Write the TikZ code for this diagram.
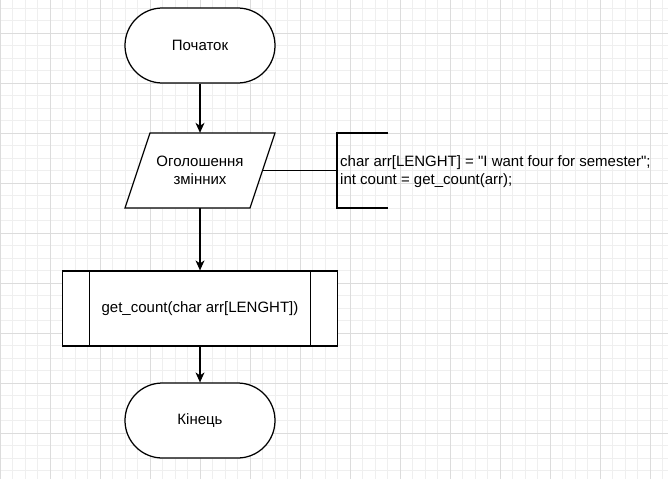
\documentclass[tikz,border=0pt]{standalone}
\usepackage{fontspec}
\setmainfont{Liberation Sans}[Ligatures=TeXOff]
\usetikzlibrary{arrows.meta,calc}
\definecolor{gridminor}{HTML}{EFEFEF}
\definecolor{gridmajor}{HTML}{DCDCDC}
\begin{document}
\begin{tikzpicture}[x=1pt,y=-1pt,
  minorline/.style={draw=gridminor,line width=0.8pt},
  majorline/.style={draw=gridmajor,line width=0.8pt},
  basefont/.style={font=\fontsize{15pt}{18pt}\selectfont},
  shapeline/.style={draw=black,line width=1.25pt,fill=white},
  term/.style={shapeline,basefont,minimum width=150pt,minimum height=75pt,rounded corners=37.4pt,inner sep=0pt},
  iotext/.style={basefont,minimum width=150pt,minimum height=75pt,inner sep=0pt,align=center},
  procbox/.style={shapeline,basefont,minimum width=275pt,minimum height=75pt,inner sep=0pt},
  flowarrow/.style={draw=black,line width=1.25pt,-{Stealth[length=10pt,width=9pt,inset=3pt]}},
  plainline/.style={draw=black,line width=1.25pt}
]
\useasboundingbox (0,0) rectangle (668,479);
\fill[white] (0,0) rectangle (668,479);
% grid
\foreach \i in {0,...,53} \draw[minorline] (\i*12.5,0) -- (\i*12.5,479);
\foreach \j in {0,...,37} \draw[minorline] (0,8.333+\j*12.5) -- (668,8.333+\j*12.5);
\foreach \i in {0,...,13} \draw[majorline] (\i*50,0) -- (\i*50,479);
\foreach \j in {0,...,8} \draw[majorline] (0,33.333+\j*50) -- (668,33.333+\j*50);

% parallelogram outline
\coordinate (pTL) at (150,133);
\coordinate (pTR) at (275,133);
\coordinate (pBR) at (250,208);
\coordinate (pBL) at (125,208);
\coordinate (pRight) at (262.5,170.5);
\draw[shapeline] (pTL) -- (pTR) -- (pBR) -- (pBL) -- cycle;

% nodes
\node[term] (start) at (200,45.5) {Початок};
\node[iotext] (decl) at (200,170.5) {Оголошення\\змінних};
\node[procbox] (proc) at (200,308.5) {get\_count(char arr[LENGHT])};
\node[term] (finish) at (200,420.5) {Кінець};
\draw[plainline] ($(proc.north west)+(27.5,0)$) -- ($(proc.south west)+(27.5,0)$);
\draw[plainline] ($(proc.north east)+(-27.5,0)$) -- ($(proc.south east)+(-27.5,0)$);

% annotation
\coordinate (brtopend) at (388,133);
\coordinate (brtop) at (337,133);
\coordinate (brmid) at (337,170.5);
\coordinate (brbot) at (337,208);
\coordinate (brbotend) at (388,208);
\draw[plainline] (brtopend) -- (brtop) -- (brbot) -- (brbotend);
\node[basefont,anchor=west,align=left,inner sep=0pt] (note) at (340,171.5)
  {char arr[LENGHT] = "I want four for semester";\\int count = get\_count(arr);};
\draw[plainline] (pRight) -- (brmid);

% connectors
\draw[flowarrow] (start.south) -- (decl.north);
\draw[flowarrow] (decl.south) -- (proc.north);
\draw[flowarrow] (proc.south) -- (finish.north);
\end{tikzpicture}
\end{document}
